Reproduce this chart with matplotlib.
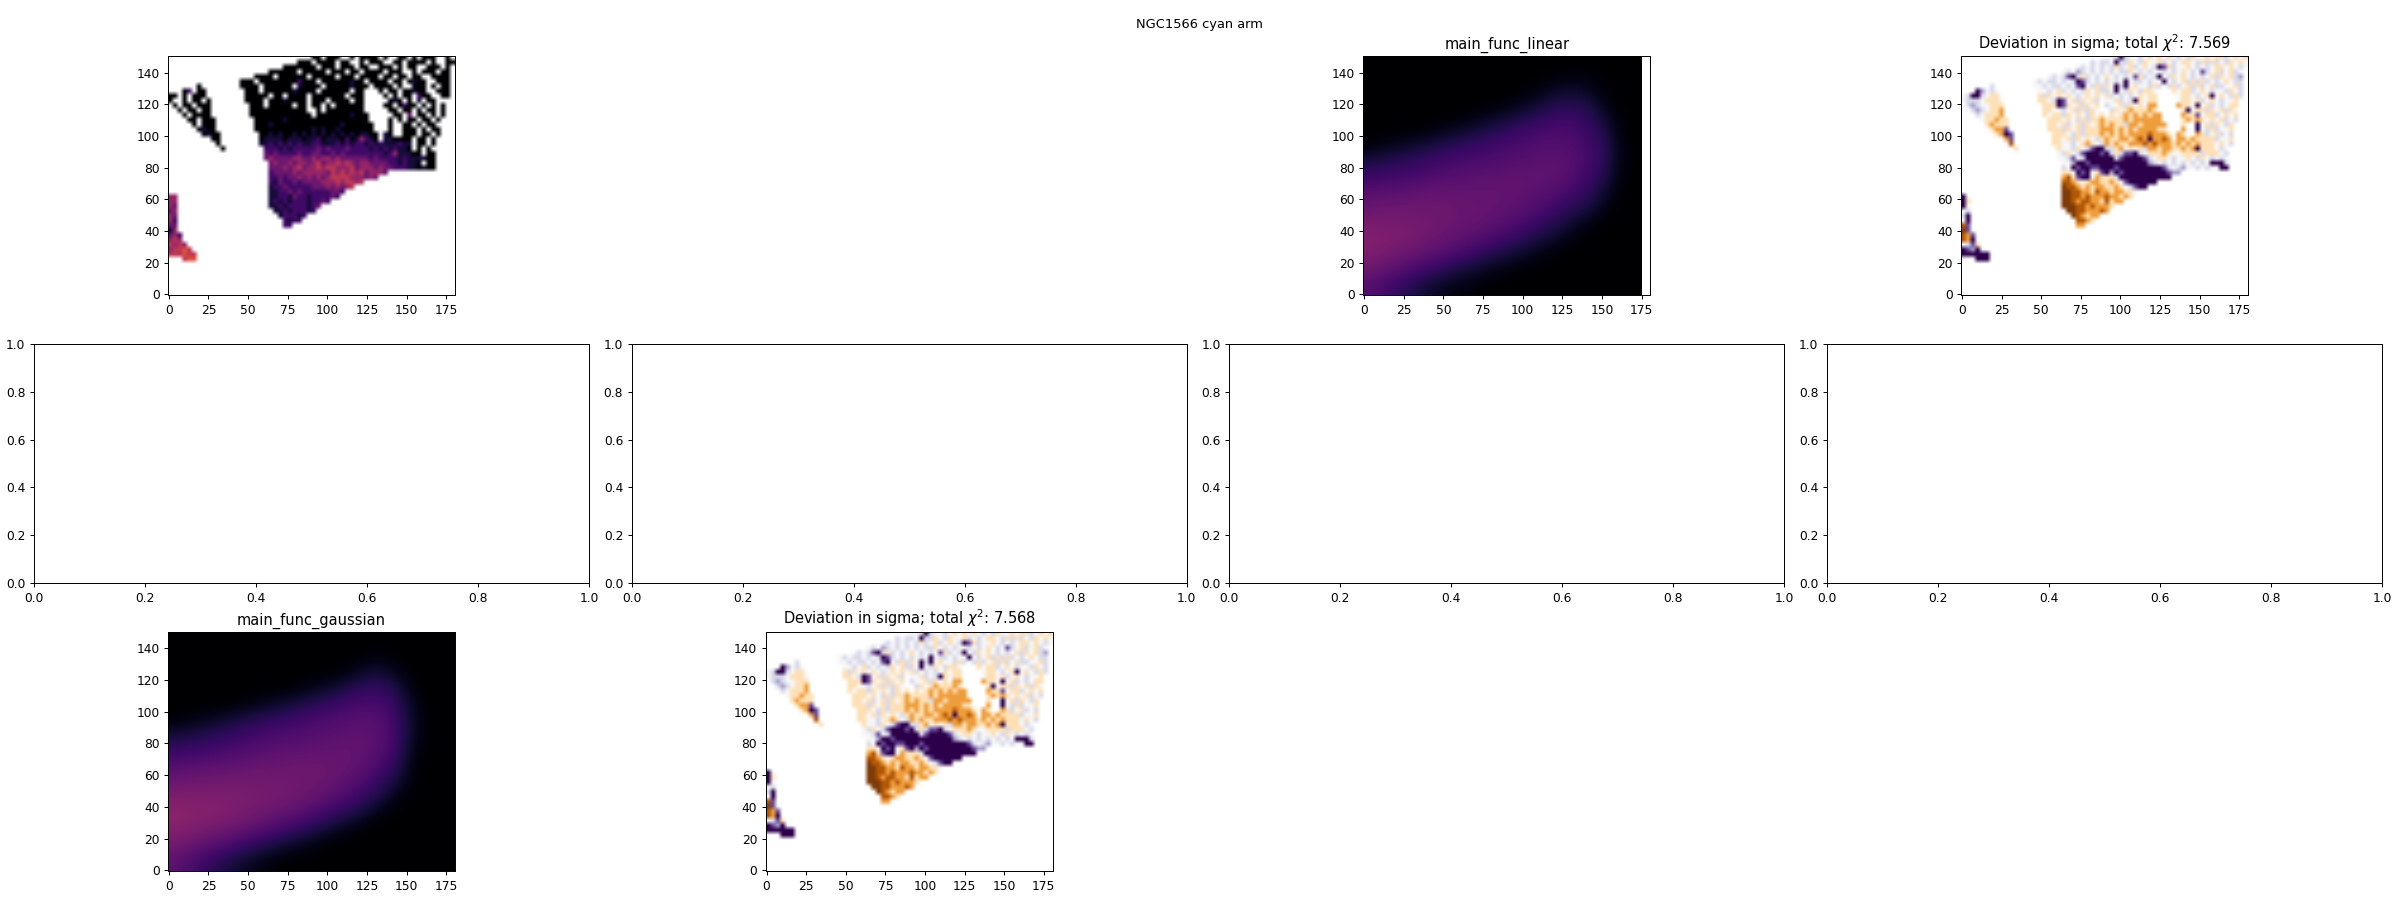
import numpy as np
import matplotlib
matplotlib.use("Agg")
import matplotlib.pyplot as plt

# maps are read in cells of 3 units, one entry per row from y=150 downwards
# each entry is "first-last:values", digits are levels and '.' is no data
data_rows = [
"30-59:00.000..0.0000.0..00.0.000..0.",
"27-59:000.0000.00..0.000..00.0000.0..00",
"24-59:0000000.000.000.00..000.0.00..000.0.",
"21-58:000000.00000.000.00.0000.000..0.000.00",
"18-58:0000.000000.00000.000.0000.00.00.00..0000",
"15-58:000.000000002000.000000100.0000.00.0100..000",
"6-6:0 15-58:0000.000000.10000.00000100000000.0..000.0.00",
"3-7:02.00 16-58:000.00000010000.000000.000000.00.00100..000",
"0-7:00.0.000 16-58:00000.00.0000.0000000.00000000.0.00.200..00",
"0-8:0..0.00.0 16-57:0000.000100000000.0000.000000.010.0.1.00..",
"1-8:0.00.000 17-57:000.00000.00000.0.00000000.000.0200.0.0.0",
"2-8:0.00.00 17-57:000000000000000.000000000000.00.00.0.00.0",
"3-8:0.0000 17-57:00000000000000000000010000000.00.3.00.0.0",
"4-9:00.000 18-57:00000010000000000000000000000.0.00.00.0.",
"5-9:0.000 18-56:000100000000000000100000000.00.00.0.00.",
"6-9:0100 18-56:000000000000101001000000000.00.000.0.00",
"7-10:0100 19-56:00101001010101010101011000100.000.00.0",
"9-10:00 19-56:01111011101120111020142101110000.00.0.",
"10-10:0 19-56:11212121211221112121221212111211.00.0.",
"11-11:0 20-55:2221212222232322232222121212110.0.0.",
"20-55:323222232233223232222222212411100.00",
"20-55:343333443343443433333323222212111100",
"21-55:34334344345344545434433332212110.00",
"21-55:33343453445455444534443433222110100",
"21-45:2333343444443545454534443",
"21-43:22323343434345555444343",
"21-40:21322323333444545545",
"21-38:122322222333434345",
"21-36:1122323222222332",
"0-1:44 21-35:112213221222232",
"0-1:44 21-33:1212122212232",
"0-1:43 21-31:11212222123",
"0-1:34 22-30:112122212",
"0-1:43 23-28:122212",
"0-1:42 24-27:2122",
"0-1:33 24-25:22",
"0-1:14",
"0-2:342",
"0-2:454",
"0-3:5454",
"0-4:45565",
"0-5:555655",
"3-5:566",
]

# deviation on the same cells, 0 = deep orange, 4 = white, 8 = deep purple
dev_rows = [
"30-59:445854454343434545344343354343",
"27-59:545548553453443545433453535453434",
"24-59:454545453543543458735443454543343454",
"21-58:45465454545455345454454543454754354354",
"18-58:45457853545434545473545845343454543534356",
"15-58:45455454587545454548455454484543535354543455",
"6-6:5 15-58:44545545478453534858434453545354353543554435",
"3-7:86454 16-58:4454354545343554845345334435343354345445345",
"0-7:45885433 16-58:3534343454343435454543433535343345438434535",
"0-8:455543334 16-57:334587435343534435458343353434334354345443",
"1-8:56544333 17-57:33387343534345443534342233432334843545433",
"2-8:5654332 17-57:33445435353454534323332332333384335343534",
"3-8:543332 17-57:34335343453434343232323223323233743354343",
"4-9:433233 18-57:3334345353323333232222223232323234343545",
"5-9:32333 18-56:334354353432323352232222233333384353453",
"6-9:3227 18-56:333534353332223232322223333323384535443",
"7-10:3287 19-56:33345353332323232222122233232323543545",
"9-10:27 19-56:33435343453233223212822123223233335443",
"10-10:1 19-56:33445432345232332221212223232323334345",
"11-11:3 20-55:344534578855324343522322332328333454",
"20-55:453457888785357785433323443333533345",
"20-55:445745888888578888754334544345345454",
"21-55:44688788888888888865454545454548885",
"21-55:54878877888788888888875456445454488",
"21-45:3348784378687888888888766",
"21-43:21378842333588888888888",
"21-40:11234322332347888888",
"21-38:011232322332345788",
"21-36:0011223122322334",
"0-1:84 21-35:001121222122323",
"0-1:83 21-33:0012112231322",
"0-1:84 21-31:00011212223",
"0-1:45 22-30:001122212",
"0-1:58 23-28:012322",
"0-1:48 24-27:1123",
"0-1:17 24-25:22",
"0-1:07",
"0-2:127",
"0-2:128",
"0-3:4573",
"0-4:87684",
"0-5:888888",
"3-5:888",
]

# holes in the detector coverage: row, first cell, last cell
hole_cells = [
(6, 42, 42), (7, 41, 43), (8, 41, 44), (9, 29, 29), (9, 41, 44), (10, 29, 29), (10, 41, 44),
(11, 29, 30), (11, 41, 45), (12, 30, 30), (12, 42, 45), (13, 42, 45), (14, 43, 45), (14, 47, 48),
(15, 43, 45), (15, 47, 48), (16, 44, 44), (16, 47, 48), (17, 44, 44),
]

# where each deviation level sits on the PuOr scale
dev_levels = [0.0, 0.1, 0.25, 0.4, 0.5, 0.6, 0.72, 0.85, 1.0]

# smooth fitted models in inferno scale units, rows from y=145 down, 18 columns
linear_vals = [
[0,0,0,0,0,0,0,0,0,0,0,0,0,0,0,0,0,0],
[0,0,0,0,0,0,0,0,0,0,0,0.01,0.02,0.03,0.03,0.01,0,0],
[0,0,0,0,0,0,0,0,0,0,0.02,0.05,0.09,0.10,0.08,0.02,0,0],
[0,0,0,0,0,0,0,0.01,0.03,0.06,0.09,0.13,0.16,0.16,0.14,0.07,0.01,0],
[0,0,0,0,0.01,0.03,0.06,0.09,0.12,0.15,0.18,0.20,0.21,0.21,0.18,0.12,0.02,0],
[0.01,0.03,0.05,0.07,0.10,0.13,0.15,0.17,0.19,0.21,0.22,0.24,0.24,0.23,0.20,0.15,0.04,0],
[0.10,0.12,0.14,0.16,0.18,0.20,0.21,0.22,0.23,0.24,0.25,0.26,0.26,0.25,0.21,0.16,0.04,0],
[0.18,0.19,0.20,0.21,0.23,0.24,0.25,0.26,0.26,0.27,0.27,0.27,0.27,0.24,0.19,0.14,0.03,0],
[0.25,0.25,0.26,0.27,0.28,0.28,0.28,0.28,0.28,0.28,0.27,0.26,0.24,0.20,0.17,0.09,0.01,0],
[0.29,0.30,0.30,0.30,0.30,0.30,0.29,0.29,0.28,0.27,0.25,0.23,0.19,0.15,0.11,0.05,0,0],
[0.33,0.33,0.33,0.32,0.31,0.30,0.29,0.28,0.26,0.24,0.21,0.17,0.13,0.08,0.04,0,0,0],
[0.36,0.35,0.34,0.32,0.30,0.28,0.26,0.24,0.21,0.18,0.14,0.10,0.07,0.02,0,0,0,0],
[0.34,0.32,0.30,0.28,0.25,0.23,0.20,0.16,0.12,0.09,0.06,0.03,0,0,0,0,0,0],
[0.30,0.27,0.24,0.20,0.17,0.13,0.09,0.06,0.04,0.02,0,0,0,0,0,0,0,0],
[0.24,0.20,0.16,0.11,0.07,0.04,0.03,0.01,0,0,0,0,0,0,0,0,0,0],
]
gaussian_vals = [
[0,0,0,0,0,0,0,0,0,0,0,0,0,0,0,0,0,0],
[0,0,0,0,0,0,0,0,0,0,0,0,0.01,0.02,0,0,0,0],
[0,0,0,0,0,0,0,0,0,0,0,0.03,0.08,0.08,0.03,0,0,0],
[0,0,0,0,0,0,0,0,0.02,0.05,0.08,0.13,0.16,0.16,0.10,0.01,0,0],
[0,0,0,0,0.01,0.03,0.06,0.09,0.12,0.15,0.18,0.20,0.21,0.21,0.14,0.04,0,0],
[0.01,0.03,0.05,0.08,0.11,0.14,0.16,0.18,0.20,0.22,0.23,0.25,0.25,0.24,0.17,0.05,0,0],
[0.10,0.12,0.14,0.16,0.18,0.20,0.22,0.23,0.24,0.25,0.26,0.27,0.27,0.25,0.17,0.05,0,0],
[0.18,0.19,0.20,0.22,0.23,0.25,0.26,0.27,0.27,0.28,0.28,0.28,0.27,0.24,0.16,0.03,0,0],
[0.25,0.26,0.27,0.27,0.28,0.29,0.29,0.30,0.30,0.30,0.29,0.28,0.25,0.20,0.13,0.01,0,0],
[0.30,0.31,0.31,0.32,0.32,0.32,0.32,0.31,0.31,0.30,0.28,0.25,0.21,0.15,0.08,0,0,0],
[0.35,0.35,0.35,0.35,0.34,0.33,0.32,0.31,0.29,0.27,0.24,0.20,0.15,0.09,0.02,0,0,0],
[0.38,0.37,0.36,0.35,0.33,0.31,0.29,0.27,0.24,0.20,0.16,0.12,0.06,0.01,0,0,0,0],
[0.36,0.34,0.32,0.30,0.28,0.25,0.22,0.18,0.14,0.10,0.05,0.02,0,0,0,0,0,0],
[0.31,0.28,0.25,0.22,0.18,0.14,0.10,0.06,0.04,0.01,0,0,0,0,0,0,0,0],
[0.26,0.22,0.17,0.12,0.08,0.04,0.02,0,0,0,0,0,0,0,0,0,0,0],
]

x_ticks = [0, 25, 50, 75, 100, 125, 150, 175]
y_ticks = [0, 20, 40, 60, 80, 100, 120, 140]

suptitle = "NGC1566 cyan arm"
linear_title = "main_func_linear"
gaussian_title = "main_func_gaussian"
dev_title_linear = r"Deviation in sigma; total $\chi^2$: 7.569"
dev_title_gaussian = r"Deviation in sigma; total $\chi^2$: 7.568"

N_COLS = 60
N_ROWS = 50


def parseRows(rows):
    out = np.full((N_ROWS, N_COLS), np.nan)
    for i, row in enumerate(rows):
        for segment in row.split():
            span, values = segment.split(":")
            first, last = span.split("-")
            for j, c in enumerate(values[:int(last) - int(first) + 1]):
                if c != ".":
                    out[i, int(first) + j] = int(c)
    for row, first, last in hole_cells:
        out[row, first:last + 1] = np.nan
    return out


def toRgba(values, cmap_name):
    # masked cells go white before the smoothing, NaN would eat the neighbouring cells
    cmap = plt.get_cmap(cmap_name).copy()
    cmap.set_bad("white")
    return cmap(np.ma.masked_invalid(values))


data_cells = parseRows(data_rows)
dev_cells = parseRows(dev_rows)
dev_scaled = np.full(dev_cells.shape, np.nan)
ok = ~np.isnan(dev_cells)
dev_scaled[ok] = np.array(dev_levels)[dev_cells[ok].astype(int)]

data_rgba = toRgba(data_cells / 10.0, "inferno")
dev_rgba = toRgba(dev_scaled, "PuOr")

ext = (-0.5, 180.5, -0.5, 150.5)

fig, axes = plt.subplots(3, 4, figsize=(2400 / 88, 900 / 88), dpi=88)
fig.subplots_adjust(left=34 / 2400, right=2382 / 2400, top=1 - 56 / 900, bottom=1 - 871 / 900,
                    wspace=0.077, hspace=0.203)
fig.suptitle(suptitle, x=0.5, y=0.98, fontsize=10.6)

axes[0, 0].imshow(data_rgba, extent=ext, interpolation="bilinear")

axes[0, 2].imshow(linear_vals, cmap="inferno", vmin=0, vmax=1, extent=(-0.5, 175.5, -0.5, 150.5),
                  interpolation="bicubic")
axes[0, 2].set_xlim(-0.5, 180.5)
axes[0, 2].set_ylim(-0.5, 150.5)
axes[0, 2].set_title(linear_title)

axes[0, 3].imshow(dev_rgba, extent=ext, interpolation="bilinear")
axes[0, 3].set_title(dev_title_linear)

axes[2, 0].imshow(gaussian_vals, cmap="inferno", vmin=0, vmax=1, extent=ext, interpolation="bicubic")
axes[2, 0].set_title(gaussian_title)

axes[2, 1].imshow(dev_rgba, extent=ext, interpolation="bilinear")
axes[2, 1].set_title(dev_title_gaussian)

for ax in [axes[0, 0], axes[0, 2], axes[0, 3], axes[2, 0], axes[2, 1]]:
    ax.set_xticks(x_ticks)
    ax.set_yticks(y_ticks)

# unused panels in the grid
axes[0, 1].remove()
axes[2, 2].remove()
axes[2, 3].remove()

fig.savefig("out.png", dpi=88)
